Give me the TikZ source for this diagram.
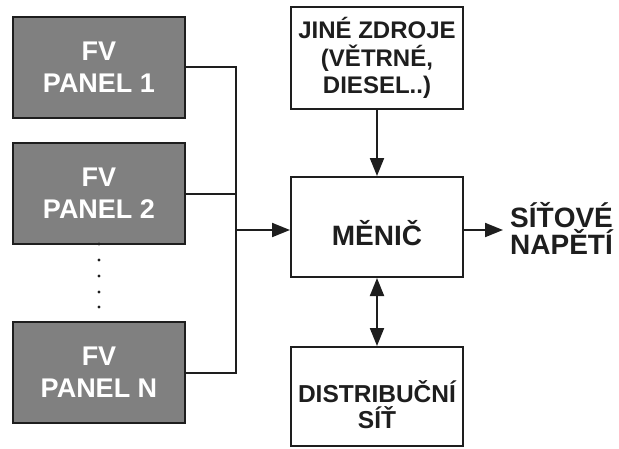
\documentclass[tikz,border=0pt]{standalone}
\usepackage{fontspec}
\setmainfont{Liberation Sans}
\usetikzlibrary{arrows.meta,positioning}
\definecolor{pvgray}{RGB}{128,128,128}
\definecolor{edgeblack}{RGB}{30,30,30}

\begin{document}
\begin{tikzpicture}[x=1pt, y=-1pt, >={Triangle[length=18pt,width=14pt]},
  panelbox/.style={draw=edgeblack, line width=2pt, fill=pvgray, text=white, minimum width=172pt, minimum height=101pt, inner sep=0pt, align=center, font=\fontsize{27}{32}\selectfont\bfseries},
  whitebox/.style={draw=edgeblack, line width=2pt, fill=white, minimum width=172pt, minimum height=101pt, inner sep=0pt, align=center},
  boxtext/.style={text=edgeblack, inner sep=0pt, align=center, font=\fontsize{24}{27.5}\selectfont\bfseries},
  wire/.style={draw=edgeblack, line width=2pt}]
  \useasboundingbox (0,0) rectangle (619,448);
  % PV panels
  \node[panelbox] (panel1) at (99,67) {FV\\PANEL 1};
  \node[panelbox] (panel2) at (99,193.5) {FV\\PANEL 2};
  \node[panelbox] (panelN) at (99,372.5) {FV\\PANEL N};
  \foreach \dy in {244,260,276,292,307} \fill[edgeblack] (99,\dy) circle (1.7pt);
  % right column
  \node[whitebox, minimum height=102pt] (jine) at (377,58) {};
  \node[boxtext] (jinetxt) at (jine.center) {JINÉ ZDROJE\\(VĚTRNÉ,\\DIESEL..)};
  \node[whitebox, minimum height=100pt] (menic) at (377,227) {};
  \node[boxtext, font=\fontsize{28}{30}\selectfont\bfseries] (menictxt) at ([yshift=-6pt]menic.center) {MĚNIČ};
  \node[whitebox, minimum height=99pt] (dist) at (377,396.5) {};
  \node[boxtext, font=\fontsize{24.5}{26}\selectfont\bfseries] (disttxt) at ([yshift=-8pt]dist.center) {DISTRIBUČNÍ\\SÍŤ};
  \node[boxtext, align=left, anchor=west, font=\fontsize{28}{27}\selectfont\bfseries] (sitlbl) at (510,228) {SÍŤOVÉ\\NAPĚTÍ};
  % connectors
  \coordinate (bustop) at (236,67);
  \coordinate (menicin) at ([yshift=-3pt]menic.west);
  \coordinate (menicout) at ([yshift=-3pt]menic.east);
  \draw[wire] (panel1.east) -- (bustop) |- (panelN.east);
  \draw[wire] (panel2.east) -- (panel2.east -| bustop);
  \draw[wire,->] (bustop |- menicin) -- (menicin);
  \draw[wire,->] (menicout) -- (menicout -| sitlbl.west) [shorten >=7pt];
  \draw[wire,->] (jine) -- (menic);
  \draw[wire,<->] (menic) -- (dist);
\end{tikzpicture}
\end{document}
